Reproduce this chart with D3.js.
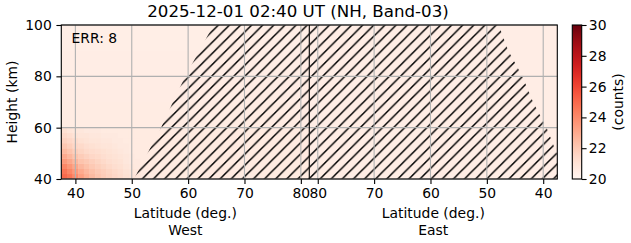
<!DOCTYPE html>
<html><head><meta charset="utf-8">
<script src="https://cdn.jsdelivr.net/npm/d3@7"></script>
<style>
body{margin:0;background:#fff;}
svg text{font-family:"DejaVu Sans",sans-serif;fill:#000;}
</style></head>
<body><svg id="c" width="631" height="243"></svg>
<script>
// ---------- data ----------
const titleText = "2025-12-01 02:40 UT (NH, Band-03)";
const errText = "ERR: 8";
const latTicks = [40, 50, 60, 70, 80];
const heightTicks = [40, 60, 80, 100];
const cbarTicks = [20, 22, 24, 26, 28, 30];
const latRange = [37.5, 81.5];
const heightRange = [40, 100];
const cbarRange = [20, 30];

// enhanced region (West side, low latitudes / low heights): lat bins 1 deg, height bins 2 km
const hotLatEdges = [37.5, 38.5, 39.5, 40.5, 41.5, 42.5, 43.5, 44.5, 45.5, 46.5, 47.5, 48.5, 49.5, 50.5, 51.5];
const hotHeightEdges = [40, 42, 44, 46, 48, 50, 52, 54, 56, 58, 60];
const hotValues = [ // rows bottom -> top
  [25.0, 24.6, 24.0, 23.4, 22.9, 22.5, 22.2, 21.9, 21.7, 21.5, 21.3, 21.1, 21.0, 20.9],
  [24.6, 24.1, 23.5, 23.0, 22.6, 22.3, 22.0, 21.8, 21.6, 21.4, 21.2, 21.0, 20.9, 20.8],
  [24.1, 23.6, 23.1, 22.6, 22.3, 22.0, 21.8, 21.6, 21.4, 21.2, 21.1, 20.9, 20.8, 20.7],
  [23.5, 23.1, 22.6, 22.2, 22.0, 21.8, 21.6, 21.4, 21.2, 21.1, 21.0, 20.8, 20.7, 20.7],
  [23.0, 22.6, 22.2, 21.9, 21.7, 21.5, 21.4, 21.2, 21.1, 21.0, 20.9, 20.8, 20.7, 20.6],
  [22.5, 22.2, 21.8, 21.6, 21.4, 21.3, 21.2, 21.1, 21.0, 20.9, 20.8, 20.7, 20.6, 20.6],
  [22.1, 21.8, 21.5, 21.4, 21.2, 21.1, 21.0, 20.9, 20.9, 20.8, 20.7, 20.7, 20.6, 20.6],
  [21.7, 21.5, 21.3, 21.1, 21.0, 20.9, 20.9, 20.8, 20.8, 20.7, 20.7, 20.6, 20.6, 20.6],
  [21.4, 21.2, 21.0, 20.9, 20.9, 20.8, 20.8, 20.7, 20.7, 20.7, 20.6, 20.6, 20.6, 20.6],
  [21.1, 20.9, 20.8, 20.8, 20.7, 20.7, 20.7, 20.6, 20.6, 20.6, 20.6, 20.6, 20.6, 20.6]
];
// background by height band (West), and East background
const bgHeightEdges = [40, 60, 70, 80, 90, 100];
const westBg = [20.6, 20.55, 20.5, 20.45, 20.4];
const eastBg = 20.45;

// hatched (no-data) region boundaries
const hatchHeights = [40, 50, 60, 70, 80, 90, 100];
const westHatchEdge = [50.4, 52.8, 55.2, 57.3, 59.5, 62.0, 64.5];
const eastHatchEdge = [36.5, 37.6, 39.4, 41.8, 43.7, 46.2, 47.9];

// ---------- layout ----------
const L = 61.3, R = 557.3, T = 25, B = 179, MID = 309.3;
const svg = d3.select("#c");
const xW = d3.scaleLinear().domain(latRange).range([L, MID]);
const xE = d3.scaleLinear().domain([latRange[1], latRange[0]]).range([MID, R]);
const y = d3.scaleLinear().domain(heightRange).range([B, T]);
const color = d3.scaleSequential(d3.interpolateReds).domain(cbarRange);

const defs = svg.append("defs");
defs.append("clipPath").attr("id", "clipW").append("rect").attr("x", L).attr("y", T).attr("width", MID - L).attr("height", B - T);
defs.append("clipPath").attr("id", "clipE").append("rect").attr("x", MID).attr("y", T).attr("width", R - MID).attr("height", B - T);

// hatch pattern "/" in absolute pixel coords
const P = 100 / 9, c0 = 10.1;
const pat = defs.append("pattern").attr("id", "hatch").attr("patternUnits", "userSpaceOnUse")
  .attr("width", P).attr("height", P);
let pd = "";
for (let k = -1; k <= 2; k++) {
  const c = c0 + k * P;
  pd += `M${c + 2},-2L${c - P - 2},${P + 2}`;
}
pat.append("path").attr("d", pd).attr("stroke", "#000").attr("stroke-width", 1.4).attr("fill", "none");

// ---------- heatmap ----------
const gW = svg.append("g").attr("clip-path", "url(#clipW)");
const gE = svg.append("g").attr("clip-path", "url(#clipE)");
// backgrounds
westBg.forEach((v, i) => {
  gW.append("rect").attr("x", xW(latRange[0])).attr("width", xW(latRange[1]) - xW(latRange[0]))
    .attr("y", y(bgHeightEdges[i + 1])).attr("height", y(bgHeightEdges[i]) - y(bgHeightEdges[i + 1]) + 0.5)
    .attr("fill", color(v));
});
gE.append("rect").attr("x", xE(latRange[1])).attr("width", xE(latRange[0]) - xE(latRange[1]))
  .attr("y", y(heightRange[1])).attr("height", y(heightRange[0]) - y(heightRange[1])).attr("fill", color(eastBg));
// enhanced cells
hotValues.forEach((row, i) => {
  row.forEach((v, j) => {
    gW.append("rect")
      .attr("x", xW(hotLatEdges[j])).attr("width", xW(hotLatEdges[j + 1]) - xW(hotLatEdges[j]) + 0.3)
      .attr("y", y(hotHeightEdges[i + 1])).attr("height", y(hotHeightEdges[i]) - y(hotHeightEdges[i + 1]) + 0.3)
      .attr("fill", color(v));
  });
});

// ---------- hatch ----------
const westPoly = hatchHeights.map((h, i) => [xW(westHatchEdge[i]), y(h)])
  .concat([[xW(latRange[1]), y(heightRange[1])], [xW(latRange[1]), y(heightRange[0])]]);
gW.append("path").attr("d", "M" + westPoly.join("L") + "Z").attr("fill", "url(#hatch)");
const eastPoly = hatchHeights.map((h, i) => [xE(eastHatchEdge[i]), y(h)])
  .concat([[xE(latRange[1]), y(heightRange[1])], [xE(latRange[1]), y(heightRange[0])]]);
gE.append("path").attr("d", "M" + eastPoly.join("L") + "Z").attr("fill", "url(#hatch)");

// ---------- grid ----------
const grid = svg.append("g").attr("stroke", "#b0b0b0").attr("stroke-width", 1.1);
latTicks.forEach(t => {
  [xW(t), xE(t)].forEach(x => grid.append("line").attr("x1", x).attr("x2", x).attr("y1", T).attr("y2", B));
});
heightTicks.forEach(t => grid.append("line").attr("x1", L).attr("x2", R).attr("y1", y(t)).attr("y2", y(t)));

// ---------- axes ----------
function styleAxis(g) {
  g.select(".domain").remove();
  g.selectAll(".tick line").attr("stroke", "#000").attr("stroke-width", 1.1);
  g.selectAll(".tick text").style("font-size", "13.9px").style("font-family", "DejaVu Sans");
}
svg.append("g").attr("transform", `translate(0,${B})`)
  .call(d3.axisBottom(xW).tickValues(latTicks).tickSize(4.9).tickPadding(4.2).tickFormat(d3.format("d"))).call(styleAxis);
svg.append("g").attr("transform", `translate(0,${B})`)
  .call(d3.axisBottom(xE).tickValues(latTicks).tickSize(4.9).tickPadding(4.2).tickFormat(d3.format("d"))).call(styleAxis);
svg.append("g").attr("transform", `translate(${L},0)`)
  .call(d3.axisLeft(y).tickValues(heightTicks).tickSize(4.9).tickPadding(4.6).tickFormat(d3.format("d"))).call(styleAxis);

// frame + divider
svg.append("rect").attr("x", L).attr("y", T).attr("width", R - L).attr("height", B - T)
  .attr("fill", "none").attr("stroke", "#000").attr("stroke-width", 1.1);
svg.append("line").attr("x1", MID).attr("x2", MID).attr("y1", T).attr("y2", B).attr("stroke", "#000").attr("stroke-width", 1.1);

// ---------- labels ----------
svg.append("text").attr("x", 298).attr("y", 17.3).attr("text-anchor", "middle").style("font-size", "16.67px").text(titleText);
svg.append("text").attr("x", 71.5).attr("y", 43.3).style("font-size", "13.9px").text(errText);
[["West", (L + MID) / 2], ["East", (MID + R) / 2]].forEach(([lab, cx]) => {
  svg.append("text").attr("x", cx).attr("y", 218.3).attr("text-anchor", "middle").style("font-size", "13.9px").text("Latitude (deg.)");
  svg.append("text").attr("x", cx).attr("y", 235).attr("text-anchor", "middle").style("font-size", "13.9px").text(lab);
});
svg.append("text").attr("transform", `translate(16.8,${(T + B) / 2}) rotate(-90)`).attr("text-anchor", "middle")
  .style("font-size", "13.9px").text("Height (km)");

// ---------- colorbar ----------
const CL = 572.3, CR = 581.7;
const grad = defs.append("linearGradient").attr("id", "cb").attr("x1", 0).attr("y1", 1).attr("x2", 0).attr("y2", 0);
d3.range(0, 1.0001, 0.05).forEach(t => grad.append("stop").attr("offset", t).attr("stop-color", d3.interpolateReds(t)));
svg.append("rect").attr("x", CL).attr("y", T).attr("width", CR - CL).attr("height", B - T).attr("fill", "url(#cb)");
svg.append("rect").attr("x", CL).attr("y", T).attr("width", CR - CL).attr("height", B - T)
  .attr("fill", "none").attr("stroke", "#000").attr("stroke-width", 1.1);
const yc = d3.scaleLinear().domain(cbarRange).range([B, T]);
svg.append("g").attr("transform", `translate(${CR},0)`)
  .call(d3.axisRight(yc).tickValues(cbarTicks).tickSize(4.9).tickPadding(2.2).tickFormat(d3.format("d"))).call(styleAxis);
svg.append("text").attr("transform", `translate(623,${(T + B) / 2}) rotate(-90)`).attr("text-anchor", "middle")
  .style("font-size", "13.9px").text("(counts)");
</script></body></html>
